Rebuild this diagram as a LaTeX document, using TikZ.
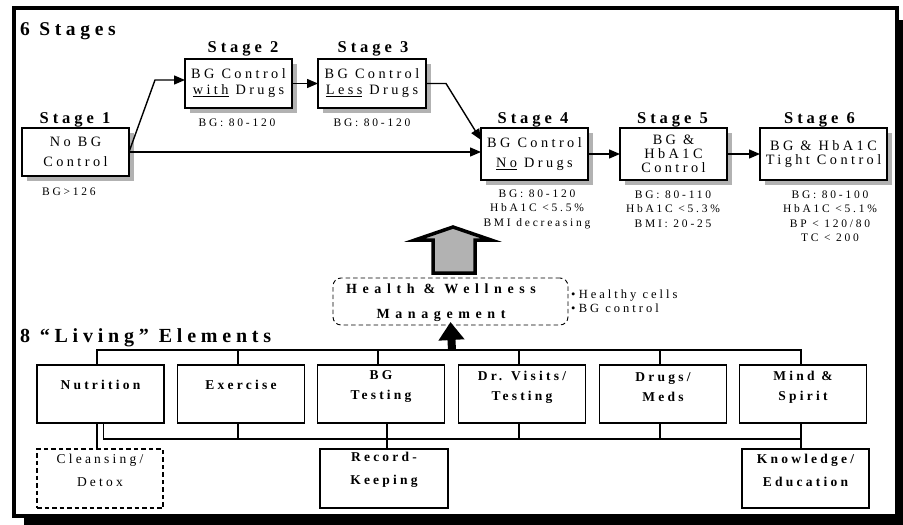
\documentclass[tikz,border=0pt]{standalone}
\usepackage{fontspec}
\setmainfont{Liberation Serif}[LetterSpace=24]
\usetikzlibrary{arrows.meta,shadows}
\newcommand\fsz[2]{\fontsize{#1}{#2}\selectfont}
\begin{document}
\begin{tikzpicture}[x=1pt,y=-1pt,
  every node/.style={inner sep=0pt,outer sep=0pt},
  stagebox/.style={draw,line width=1.5pt,fill=white,align=center,
    drop shadow={shadow xshift=5pt,shadow yshift=-5pt,fill=black!30,opacity=1}},
  stagelabel/.style={font=\fsz{16.5}{18}\bfseries,anchor=base},
  title/.style={font=\fsz{19.5}{22}\bfseries,anchor=base west},
  info/.style={font=\fsz{11.5}{14.5},align=center},
  elbox/.style={draw,line width=1.5pt,minimum width=127pt,minimum height=58pt},
  eltext/.style={font=\fsz{13.5}{20}\bfseries,align=center},
  link/.style={line width=1.4pt},
  arr/.style={line width=1.4pt,-{Triangle[length=11pt,width=9pt]}},
  dashbox/.style={dash pattern=on 4.5pt off 3pt},
]
\useasboundingbox (0,0) rectangle (903,525);
% frame
\fill[black] (24,20) rectangle (903,525);
\draw[line width=4pt,fill=white] (14,8) rectangle (896.5,515.5);

% titles
\node[title] (t1) at (20,35) {6 Stages};
\node[title,font=\fsz{20}{22}\bfseries] (t2) at (20,342) {8 “Living” Elements};

% stages
\node[stagebox,minimum width=107pt,minimum height=48pt,font=\fsz{14.3}{20}] (s1) at (75.5,152) {No BG\\Control};
\node[stagebox,minimum width=107pt,minimum height=49pt,font=\fsz{14.3}{16}] (s2) at (238.5,83.5) {BG Control\\\underline{with} Drugs};
\node[stagebox,minimum width=108pt,minimum height=49pt,font=\fsz{14.3}{16}] (s3) at (372,83.5) {BG Control\\\underline{Less} Drugs};
\node[stagebox,minimum width=107pt,minimum height=52pt,font=\fsz{14.3}{20}] (s4) at (534.5,154) {BG Control\\\underline{No} Drugs};
\node[stagebox,minimum width=107pt,minimum height=52pt,font=\fsz{14.3}{14}] (s5) at (673.5,154) {BG \&\\HbA1C\\Control};
\node[stagebox,minimum width=127pt,minimum height=52pt,font=\fsz{14.3}{13.5}] (s6) at (823.5,154) {BG \& HbA1C\\Tight Control};

\node[stagelabel] (l1) at (75,123) {Stage 1};
\node[stagelabel] (l2) at (243,52) {Stage 2};
\node[stagelabel] (l3) at (373,52) {Stage 3};
\node[stagelabel] (l4) at (533,123) {Stage 4};
\node[stagelabel] (l5) at (672.5,123) {Stage 5};
\node[stagelabel] (l6) at (819.5,123) {Stage 6};

\node[info] (i1) at (69,192) {BG>126};
\node[info] (i2) at (237,122.5) {BG: 80-120};
\node[info] (i3) at (372,122.5) {BG: 80-120};
\node[info] (i4) at (537,209) {BG: 80-120\\HbA1C <5.5\%\\BMI decreasing};
\node[info] (i5) at (673,209) {BG: 80-110\\HbA1C <5.3\%\\BMI: 20-25};
\node[info] (i6) at (830,216) {BG: 80-100\\HbA1C <5.1\%\\BP < 120/80\\TC < 200};

% stage connectors
\coordinate (k12) at (155,80);
\coordinate (k34) at (446,83.5);
\draw[arr] (s1.east) -- (k12) -- (k12 -| s2.west);
\draw[arr] (s2.east) -- (s3.west);
\draw[arr] (s1.east) -- (s1.east -| s4.west);
\draw[arr] (s3.east) -- (k34) -- ([yshift=-12pt]s4.north west);
\draw[arr] (s4.east) -- (s5.west);
\draw[arr] (s5.east) -- (s6.west);

% big block arrow
\draw[line width=3.5pt,fill=black!30,line join=miter] (433,273) -- (433,240) -- (415,240) -- (453,227) -- (491,240) -- (475,240) -- (475,273) -- cycle;

% health & wellness
\node[draw,dashbox,line width=0.9pt,rounded corners=8pt,minimum width=235pt,minimum height=47pt] (hwm) at (450.5,301.5) {};
\node[font=\fsz{14}{25}\bfseries\addfontfeatures{LetterSpace=40},align=center] (hwmt) at (441,303) {Health \& Wellness\\Management};
\node[font=\fsz{12.5}{14},align=left,anchor=west] (bul) at (571,301) {•\;Healthy cells\\•\;BG control};

% elements
\node[elbox] (nut) at (100.5,394) {};
\node[elbox] (exe) at (241,394) {};
\node[elbox] (bgt) at (381,394) {};
\node[elbox] (drv) at (522,394) {};
\node[elbox] (dru) at (663,394) {};
\node[elbox] (mnd) at (803,394) {};
\node[eltext] at (100.5,385) {Nutrition};
\node[eltext] at (241,385) {Exercise};
\node[eltext] at (381,387) {BG\\Testing};
\node[eltext] at (522,387) {Dr. Visits/\\Testing};
\node[eltext] at (663,387) {Drugs/\\Meds};
\node[eltext] at (803,387) {Mind \&\\Spirit};

\node[elbox,dashbox,line width=1.2pt,minimum width=126pt,minimum height=59pt] (cle) at (100,478.5) {};
\node[elbox,minimum width=128pt,minimum height=59pt] (rec) at (384,478.5) {};
\node[elbox,minimum width=127pt,minimum height=59pt] (kno) at (805.5,478.5) {};
\node[font=\fsz{13.5}{23},align=center] at (100,470) {Cleansing/\\Detox};
\node[eltext,font=\fsz{13.5}{23}\bfseries] at (384,470) {Record-\\Keeping};
\node[eltext,font=\fsz{13.5}{23}\bfseries] at (805.5,470) {Knowledge/\\Education};

% buses
\coordinate (busT) at (452,350);
\coordinate (busB) at (452,439);
\draw[link] ([xshift=-3.5pt]nut.north) -- ([xshift=-3.5pt]nut.north |- busT) -- ([xshift=-2pt]mnd.north |- busT) -- ([xshift=-2pt]mnd.north);
\foreach \n in {exe,bgt,drv,dru} \draw[link] ([xshift=-3pt]\n.north |- busT) -- ([xshift=-3pt]\n.north);
\draw[link] ([xshift=3pt]nut.south) |- ([xshift=-2pt]mnd.south |- busB);
\draw[link] ([xshift=-3.5pt]nut.south) -- ([xshift=-3pt]cle.north);
\foreach \n in {exe,drv,dru} \draw[link] ([xshift=-3pt]\n.south) -- ([xshift=-3pt]\n.south |- busB);
\draw[link] ([xshift=6pt]bgt.south) -- ([xshift=3pt]rec.north);
\draw[link] ([xshift=-2pt]mnd.south) -- ([xshift=-4.5pt]kno.north);

% small arrow up
\draw[line width=8pt,-{Triangle[length=18pt,width=25pt]}] (busT) -- ([yshift=3pt]hwm.south);
\end{tikzpicture}
\end{document}
